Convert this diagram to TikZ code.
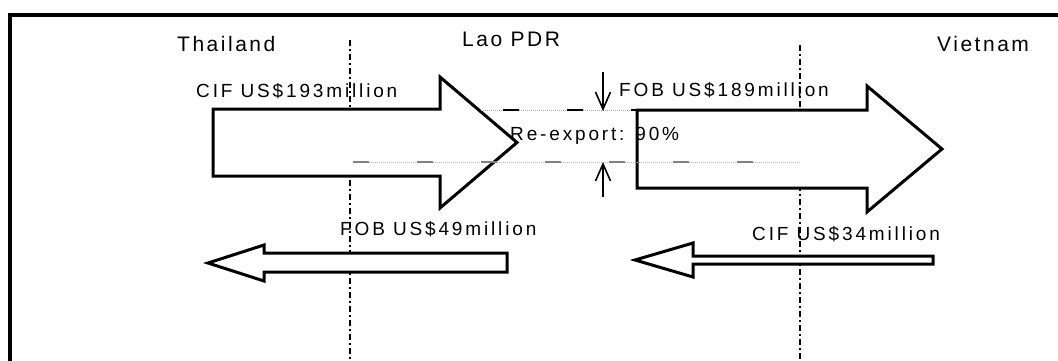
\documentclass[tikz,border=0pt]{standalone}
\usepackage{fontspec}
\setmainfont{Liberation Sans}[LetterSpace=15]
\newfontfamily\countryfont{Liberation Sans}[LetterSpace=12]
\usetikzlibrary{arrows.meta}

\begin{document}
\begin{tikzpicture}[x=1pt,y=-1pt,
  tradearrow/.style={draw,line width=3pt,fill=white,line join=miter},
  borderline/.style={line width=2.8pt,dash pattern=on 6pt off 3pt on 2pt off 3pt},
  tag/.style={anchor=base west,inner sep=0pt,font=\fontsize{19}{21}\selectfont},
  country/.style={tag,font=\countryfont\fontsize{21}{24}\selectfont},
  shareline/.style={-{Straight Barb[length=17pt,width=15pt]},line width=1.6pt}
]
\useasboundingbox (0,0) rectangle (1058,360);
\clip (0,0) rectangle (1058,360);

% frame (only top and left edges fall inside the page)
\draw[line width=3.5pt] (10,380) -- (10,15) -- (1080,15);

% borders between the countries
\draw[borderline] (350,40) -- (350,370);
\draw[borderline] (800,45) -- (800,370);

% Thailand -> Lao PDR
\draw[tradearrow] (213,109) -- (440,109) -- (440,77) -- (517,142.5)
  -- (440,208) -- (440,176) -- (213,176) -- cycle;
% Lao PDR -> Vietnam
\draw[tradearrow] (637,110) -- (867,110) -- (867,86) -- (942,149)
  -- (867,212) -- (867,188) -- (637,188) -- cycle;
% Lao PDR -> Thailand
\draw[tradearrow] (507,253) -- (264,253) -- (264,245) -- (208,263)
  -- (264,281) -- (264,272) -- (507,272) -- cycle;
% Vietnam -> Lao PDR
\draw[tradearrow] (933,256) -- (693,256) -- (693,243) -- (635,260)
  -- (693,277) -- (693,264) -- (933,264) -- cycle;

% re-export band
\draw[gray!70,line width=0.8pt,dash pattern=on 1pt off 1pt] (481,110) -- (636,110);
\draw[line width=1.8pt,dash pattern=on 16pt off 48pt,dash phase=-22pt] (481,110) -- (636,110);
\draw[gray!60,line width=0.8pt,dash pattern=on 1pt off 1pt] (353,162) -- (800,162);
\draw[gray,line width=1.4pt,dash pattern=on 16pt off 48pt] (353,162) -- (800,162);

\coordinate (upperStart) at (603,72);
\coordinate (upperEnd) at (603,111);
\coordinate (lowerStart) at (603,197);
\coordinate (lowerEnd) at (603,162);
\draw[shareline] (upperStart) -- (upperEnd);
\draw[shareline] (lowerStart) -- (lowerEnd);

% country names
\node[country] (thai) at (177,51) {Thailand};
\node[country] (lao) at (462,46) {Lao PDR};
\node[country] (viet) at (937,51) {Vietnam};

% trade values
\node[tag] (thaiCif) at (196,97) {CIF US\$193million};
\node[tag] (vietFob) at (619,96) {FOB US\$189million};
\node[tag] (share) at (510,140) {Re-export: 90\%};
\node[tag] (thaiFob) at (340,235) {FOB US\$49million};
\node[tag] (vietCif) at (752,240) {CIF US\$34million};
\end{tikzpicture}
\end{document}
